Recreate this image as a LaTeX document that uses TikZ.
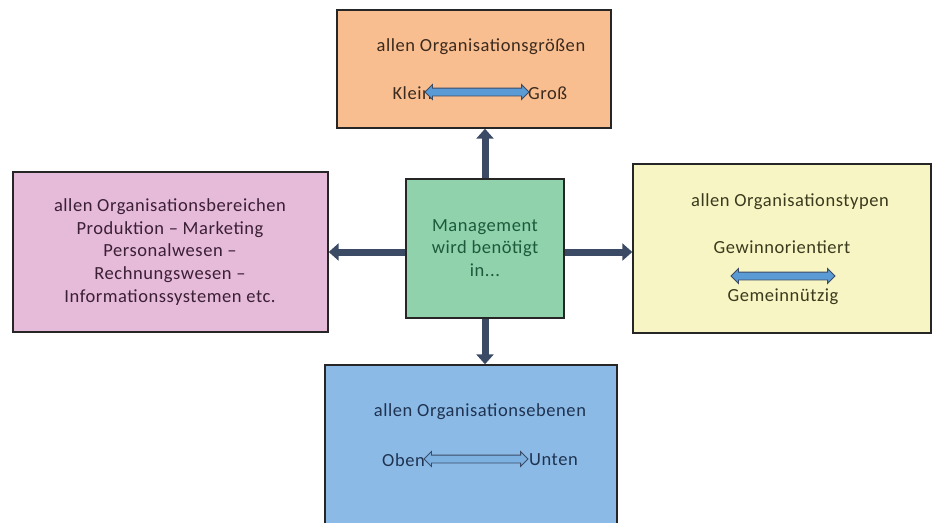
\documentclass[tikz,border=0pt]{standalone}
\usepackage{fontspec}
\setmainfont{Carlito}[LetterSpace=3]
\usetikzlibrary{arrows.meta,shapes.arrows}
\definecolor{boxorange}{HTML}{F9BE90}
\definecolor{boxpink}{HTML}{E6BAD9}
\definecolor{boxgreen}{HTML}{8FD2AC}
\definecolor{boxyellow}{HTML}{F8F5C4}
\definecolor{boxblue}{HTML}{8CBAE6}
\definecolor{linkdark}{HTML}{3B4B66}
\definecolor{dblblue}{HTML}{5B9BD5}
\definecolor{txtorange}{HTML}{3B2A1E}
\definecolor{txtpink}{HTML}{3A1F35}
\definecolor{txtgreen}{HTML}{1E5A3A}
\definecolor{txtyellow}{HTML}{3A3A1E}
\definecolor{txtblue}{HTML}{1F3350}
\tikzset{
  areabox/.style={draw=black!85, line width=1.4pt},
  lbl/.style={inner sep=0pt, font=\fontsize{18.5}{22.7}\selectfont, align=center},
  link/.style={draw=linkdark, line width=7pt, -{Triangle[width=17pt,length=10pt]}},
  dbl/.style={double arrow, draw=linkdark, fill=dblblue, line width=0.9pt,
    inner xsep=0pt, inner ysep=3.5pt, double arrow head extend=3.5pt,
    double arrow head indent=0pt}
}
\begin{document}
\begin{tikzpicture}[x=1pt,y=-1pt]
\useasboundingbox (0,0) rectangle (936,522);
% area boxes
\node[areabox, fill=boxorange, minimum width=274pt, minimum height=118pt, inner sep=0pt] (top) at (474,69) {};
\node[areabox, fill=boxpink, minimum width=315pt, minimum height=160pt, inner sep=0pt] (left) at (170.5,252) {};
\node[areabox, fill=boxgreen, minimum width=158pt, minimum height=139pt, inner sep=0pt] (mid) at (485,248.5) {};
\node[areabox, fill=boxyellow, minimum width=298pt, minimum height=169pt, inner sep=0pt] (right) at (782,248.5) {};
\node[areabox, fill=boxblue, minimum width=292pt, minimum height=162pt, inner sep=0pt] (bottom) at (471,446) {};

% connectors from the centre box
\draw[link] (mid.north -| 485,0) -- (top.south -| 485,0);
\draw[link] (mid.south -| 485,0) -- (bottom.north -| 485,0);
\draw[link] (mid.west |- 0,252) -- (left.east |- 0,252);
\draw[link] (mid.east |- 0,252) -- (right.west |- 0,252);

% centre text
\node[lbl, text=txtgreen] (midtxt) at (485,248) {Management\\wird benötigt\\in...};

% top box
\node[lbl, text=txtorange] (toptitle) at (481,47) {allen Organisationsgrößen};
\node[lbl, text=txtorange, anchor=east] (klein) at (432,93) {Klein};
\node[lbl, text=txtorange, anchor=west] (gross) at (528,93) {Groß};
\node[dbl, minimum height=104pt] (topdbl) at (477,92) {};

% left box
\node[lbl, text=txtpink] (lefttxt) at (170,252) {allen Organisationsbereichen\\Produktion – Marketing\\Personalwesen –\\Rechnungswesen –\\Informationssystemen etc.};

% right box
\node[lbl, text=txtyellow] (righttitle) at (790,202) {allen Organisationstypen};
\node[lbl, text=txtyellow] (gewinn) at (782,247) {Gewinnorientiert};
\node[dbl, minimum height=104pt] (rightdbl) at (783,276) {};
\node[lbl, text=txtyellow] (gemein) at (783,297) {Gemeinnützig};

% bottom box
\node[lbl, text=txtblue] (bottitle) at (480,412) {allen Organisationsebenen};
\node[lbl, text=txtblue, anchor=east] (oben) at (425,460) {Oben};
\node[lbl, text=txtblue, anchor=west] (unten) at (529,460) {Unten};
\node[dbl, fill=boxblue!70!dblblue, minimum height=104pt] (botdbl) at (476,459) {};
\end{tikzpicture}
\end{document}
